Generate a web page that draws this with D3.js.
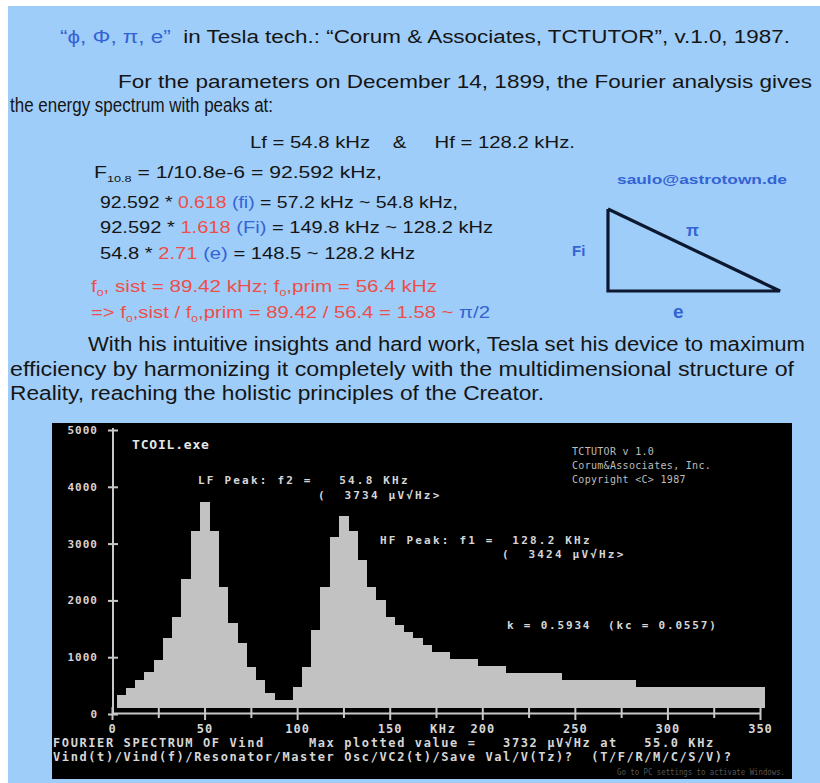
<!DOCTYPE html>
<html>
<head>
<meta charset="utf-8">
<script src="https://cdn.jsdelivr.net/npm/d3@7"></script>
<style>
body { margin: 0; background: #fff; }
svg { display: block; }
text { white-space: pre; }
</style>
</head>
<body>
<div id="viz"></div>
<script>
width = 820;
height = 783;

// Fourier spectrum, bin centres in kHz and plotted level (uV/sqrt(Hz))
freqKHz = [5,10,15,20,25,30,35,40,45,50,55,60,65,70,75,80,85,90,95,100,
	105,110,115,120,125,130,135,140,145,150,155,160,165,170,175,180,185,190,195,200,
	205,210,215,220,225,230,235,240,245,250,255,260,265,270,275,280,285,290,295,300,
	305,310,315,320,325,330,335,340,345,350];
level = [340,460,600,740,950,1340,1710,2370,3220,3740,3220,2240,1610,1250,830,600,370,250,250,470,
	830,1480,2230,3110,3480,3220,2720,2230,2010,1710,1570,1450,1340,1220,1100,1100,970,970,970,850,
	850,850,720,720,720,720,720,720,600,600,600,600,600,600,600,600,480,480,480,480,
	480,480,480,480,480,480,480,480,480,480];
yTicks = [0,1000,2000,3000,4000,5000];
xTicks = [0,50,100,150,200,250,300,350];
xMinor = [25,75,125,175,225,275,325];
xUnit = "KHz";

red = "#ec4f4a";
blue = "#3463d4";
ink = "#151515";

svg = d3.select("#viz").append("svg")
	.attr("width", width)
	.attr("height", height);

svg.append("rect")
	.attr("x", 8).attr("y", 6)
	.attr("width", width - 8).attr("height", height - 6)
	.attr("fill", "#9fcdf9");

// rich text helper: parts = [text, colour, "sub"?]
function richLine(x0, y0, size, len, parts, weight) {
	var t = svg.append("text")
		.attr("x", x0).attr("y", y0)
		.style("font-family", "'Liberation Sans', Arial, sans-serif")
		.style("font-size", size + "px")
		.style("font-weight", weight || "normal");
	if (len) t.attr("textLength", len).attr("lengthAdjust", "spacingAndGlyphs");
	var shift = 0;
	parts.forEach(function(p) {
		var s = t.append("tspan").text(p[0]).attr("fill", p[1] || ink);
		if (p[2] == "sub") {
			s.attr("dy", 4 - shift).style("font-size", (size * 0.6) + "px");
			shift = 4;
		} else if (shift) {
			s.attr("dy", -shift);
			shift = 0;
		}
	});
	return t;
}

richLine(60, 43, 18, 730, [["\u201C\u03D5, \u03A6, \u03C0, e\u201D", blue], ["  in Tesla tech.: \u201CCorum & Associates, TCTUTOR\u201D, v.1.0, 1987.", ink]]);
richLine(118, 88, 19, 694, [["For the parameters on December 14, 1899, the Fourier analysis gives"]]);
richLine(10, 112, 20, 263, [["the energy spectrum with peaks at:"]]);
richLine(250, 148, 17, 325, [["Lf = 54.8 kHz    "], ["&", ink], ["     Hf = 128.2 kHz."]]);
richLine(94, 178, 16, 288, [["F"], ["10.8", ink, "sub"], [" = 1/10.8e-6 = 92.592 kHz,"]]);
richLine(100, 208, 16, 358, [["92.592 * "], ["0.618", red], [" (fi)", blue], [" = 57.2 kHz ~ 54.8 kHz,"]]);
richLine(100, 233, 16, 393, [["92.592 * "], ["1.618", red], [" (Fi)", blue], [" = 149.8 kHz ~ 128.2 kHz"]]);
richLine(100, 259, 16, 315, [["54.8 * "], ["2.71", red], [" (e)", blue], [" = 148.5 ~ 128.2 kHz"]]);
richLine(91, 292, 16, 346, [["f", red], ["0", red, "sub"], [", sist = 89.42 kHz; f", red], ["0", red, "sub"], [",prim = 56.4 kHz", red]]);
richLine(91, 318, 16, 399, [["=> f", red], ["0", red, "sub"], [",sist / f", red], ["0", red, "sub"], [",prim = 89.42 / 56.4 = 1.58 ~ ", red], ["\u03C0/2", blue]]);

richLine(617, 184, 13, 170, [["saulo@astrotown.de", blue]], "bold");

// right triangle  Fi / e / pi
svg.append("path")
	.attr("d", d3.line()([[608, 209], [608, 291], [780, 291], [608, 209]]))
	.attr("fill", "none")
	.attr("stroke", "#0c1830")
	.attr("stroke-width", 3.2)
	.attr("stroke-linejoin", "miter");
richLine(686, 236, 17, null, [["\u03C0", blue]], "bold");
richLine(572, 256, 15, null, [["Fi", blue]], "bold");
richLine(673, 318, 19, null, [["e", blue]], "bold");

richLine(88, 351, 20, 717, [["With his intuitive insights and hard work, Tesla set his device to maximum"]]);
richLine(10, 376, 20, 784, [["efficiency by harmonizing it completely with the multidimensional structure of"]]);
richLine(10, 400, 20, 534, [["Reality, reaching the holistic principles of the Creator."]]);

// ---- TCOIL screen ----
svg.append("rect")
	.attr("x", 52).attr("y", 423)
	.attr("width", 740).attr("height", 356)
	.attr("fill", "#000");

var x = d3.scaleLinear().domain([0, 350]).range([112, 760]);
var y = d3.scaleLinear().domain([0, 5000]).range([714, 430]);
var binW = 5;

svg.append("g")
	.attr("shape-rendering", "crispEdges")
	.selectAll("rect").data(level).enter().append("rect")
	.attr("x", function(d, i) { return x(freqKHz[i] - binW / 2); })
	.attr("width", function(d, i) { return x(freqKHz[i] + binW / 2) - x(freqKHz[i] - binW / 2) + 0.6; })
	.attr("y", function(d) { return y(d); })
	.attr("height", function(d) { return y(0) - 6 - y(d); })
	.attr("fill", "#c2c2c2");

var mono = "'DejaVu Sans Mono', monospace";
var scr = "#d6d6d6";

var xAxis = svg.append("g")
	.attr("transform", "translate(0,713)")
	.call(d3.axisBottom(x).tickValues(xTicks).tickSize(0).tickSizeOuter(0).tickFormat(d3.format("d")));
xAxis.selectAll(".tick line").attr("y1", -6).attr("y2", 7);
svg.append("g")
	.attr("transform", "translate(0,713)")
	.call(d3.axisBottom(x).tickValues(xMinor).tickSize(0).tickSizeOuter(0).tickFormat(""))
	.call(function(g) { g.select(".domain").remove(); })
	.selectAll(".tick line").attr("y1", -5).attr("y2", 5);

var yAxis = svg.append("g")
	.attr("transform", "translate(113,0)")
	.call(d3.axisLeft(y).tickValues(yTicks).tickSize(0).tickSizeOuter(0).tickFormat(d3.format("d")));
yAxis.selectAll(".tick line").attr("x1", -5).attr("x2", 5);
yAxis.select(".domain").attr("d", "M0,428V714");

svg.selectAll(".domain, .tick line")
	.attr("stroke", "#c8c8c8")
	.attr("stroke-width", 2);
svg.selectAll(".tick text")
	.attr("fill", scr)
	.style("font-family", mono)
	.style("font-weight", "bold")
	.style("font-size", "12px")
	.style("letter-spacing", "1px");
xAxis.selectAll(".tick text").attr("y", 11);
yAxis.selectAll(".tick text").attr("x", -15).attr("fill", "#dccfcf").style("font-size", "11px");

function scrText(x0, y0, s, size, weight, col, ls) {
	return svg.append("text")
		.attr("x", x0).attr("y", y0)
		.attr("fill", col || scr)
		.style("font-family", mono)
		.style("font-size", (size || 11) + "px")
		.style("font-weight", weight || "bold")
		.style("letter-spacing", (ls == null ? 2.2 : ls) + "px")
		.text(s);
}

scrText(430, 733, xUnit, 12, "bold", scr, 1.6);
scrText(132, 449, "TCOIL.exe", 13, "bold", "#e6e6e6", 0.8);
scrText(198, 484, "LF Peak: f2 =   54.8 KHz");
scrText(318, 499, "(  3734 \u00B5V\u221AHz>");
scrText(380, 544, "HF Peak: f1 =  128.2 KHz");
scrText(502, 558, "(  3424 \u00B5V\u221AHz>");
scrText(507, 629, "k = 0.5934  (kc = 0.0557)", 11, "bold", scr, 1.8);
scrText(572, 455, "TCTUTOR v 1.0", 10, "normal", "#bdbdbd", 0.3);
scrText(572, 469, "Corum&Associates, Inc.", 10, "normal", "#bdbdbd", 0.3);
scrText(572, 483, "Copyright <C> 1987", 10, "normal", "#bdbdbd", 0.3);
scrText(53, 747, "FOURIER SPECTRUM OF Vind     Max plotted value =   3732 \u00B5V\u221AHz at   55.0 KHz", 12, "bold", scr, 1.6);
scrText(53, 761, "Vind(t)/Vind(f)/Resonator/Master Osc/VC2(t)/Save Val/V(Tz)?  (T/F/R/M/C/S/V)?", 12, "bold", scr, 1.6);
scrText(617, 775, "Go to PC settings to activate Windows.", 8, "normal", "#555", 0)
	.attr("textLength", 168).attr("lengthAdjust", "spacingAndGlyphs");
</script>
</body>
</html>
